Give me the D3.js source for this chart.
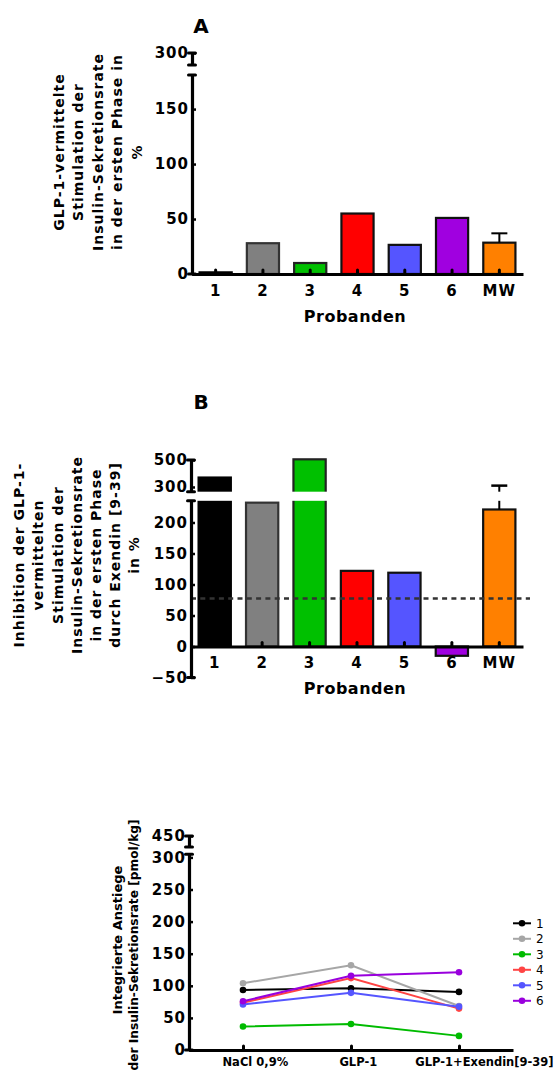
<!DOCTYPE html>
<html><head><meta charset="utf-8">
<script src="https://cdn.jsdelivr.net/npm/d3@7"></script>
<style>
body{margin:0;background:#fff}
svg{display:block}
text{font-family:"DejaVu Sans",sans-serif;font-weight:bold;fill:#000}
</style>
</head><body>
<svg id="chart" width="554" height="1080"></svg>
<script>
// ---------- data ----------
const probanden = ["1", "2", "3", "4", "5", "6", "MW"];
const barColors = ["#000000", "#808080", "#00c000", "#ff0000", "#5555ff", "#a000e0", "#ff8000"];
const barStrokes = ["#000000", "#333333", "#222222", "#111111", "#111111", "#111111", "#111111"];

// Panel A: GLP-1-vermittelte Stimulation (%)
const stimulationA = [1.5, 28, 10, 55, 26.5, 51, 28.5];
const stimulationA_MW_err = 8.5;
const ticksA_low = [0, 50, 100, 150];
const ticksA_high = [300];

// Panel B: Inhibition durch Exendin (%)
const inhibitionB = [370, 232, 505, 122, 119, -15, 221];
const inhibitionB_MW_err = 89;
const inhibitionB_reference = 77.5;
const ticksB_low = [-50, 0, 50, 100, 150, 200];
const ticksB_high = [300, 500];

// Panel C: integrierte Anstiege (pmol/kg)
const conditions = ["NaCl 0,9%", "GLP-1", "GLP-1+Exendin[9-39]"];
const subjects = ["1", "2", "3", "4", "5", "6"];
const subject1 = [93.5, 96, 90.5];
const subject2 = [104, 132, 68.5];
const subject3 = [36.5, 40.5, 22];
const subject4 = [73.5, 112, 64.5];
const subject5 = [71, 89, 67.5];
const subject6 = [76, 115.5, 121];
const lineColors = ["#000000", "#a6a6a6", "#00bb00", "#ff4444", "#5555ff", "#9900dd"];
const ticksC_low = [0, 50, 100, 150, 200, 250, 300];
const ticksC_high = [450];

// ---------- helpers ----------
const svg = d3.select("#chart");
const FONT = '"DejaVu Sans",sans-serif';

function broken(lo, hi) {
  return v => v <= lo.domain()[1] ? lo(v) : hi(v);
}

function styleTickText(sel, fs, ls) {
  sel.style("font-size", fs + "px").style("font-weight", "bold").style("font-family", FONT)
    .style("letter-spacing", ls + "px");
}

function drawBrokenYAxis(g, x, lo, hi, ticksLo, ticksHi, fs) {
  [[lo, ticksLo], [hi, ticksHi]].forEach(([sc, tv]) => {
    const ax = g.append("g").attr("transform", `translate(${x},0)`)
      .call(d3.axisLeft(sc).tickValues(tv).tickSizeInner(-4).tickSizeOuter(0).tickPadding(3).tickFormat(d3.format("d")));
    ax.select(".domain").attr("stroke", "#000").attr("stroke-width", 3.2);
    ax.selectAll(".tick line").attr("stroke", "#000").attr("stroke-width", 2.5);
    styleTickText(ax.selectAll(".tick text"), fs, 1);
    sc.range().forEach(yy => {
      g.append("line").attr("x1", x - 3.5).attr("x2", x + 3.5).attr("y1", yy).attr("y2", yy)
        .attr("stroke", "#000").attr("stroke-width", 3).attr("stroke-linecap", "round");
    });
  });
}

function drawXAxis(g, scale, y, fs, pad, ls) {
  const ax = g.append("g").attr("transform", `translate(0,${y})`)
    .call(d3.axisBottom(scale).tickSizeInner(-4).tickSizeOuter(0).tickPadding(pad));
  ax.select(".domain").attr("stroke", "#000").attr("stroke-width", 3.2);
  ax.selectAll(".tick line").attr("stroke", "#000").attr("stroke-width", 3).attr("stroke-linecap", "round");
  styleTickText(ax.selectAll(".tick text"), fs, ls);
  return ax;
}

function yTitle(lines, xs, cys, fs, ls) {
  lines.forEach((t, i) => {
    const cy = Array.isArray(cys) ? cys[i] : cys;
    svg.append("text").attr("transform", `translate(${xs[i]},${cy}) rotate(-90)`)
      .attr("text-anchor", "middle").attr("dy", "0.35em")
      .style("font-size", (Array.isArray(fs) ? fs[i] : fs) + "px").style("letter-spacing", ls + "px").text(t);
  });
}

// ---------- Panel A ----------
{
  const g = svg.append("g");
  const axX = 192, xEnd = 523;
  const x = d3.scaleBand().domain(probanden).range([axX, xEnd]).paddingInner(0.32).paddingOuter(0.16);
  const lo = d3.scaleLinear().domain([0, 181]).range([274, 75]);
  const hi = d3.scaleLinear().domain([290, 300]).range([65, 53]);
  const y = broken(lo, hi);

  g.selectAll("rect.bar").data(stimulationA).join("rect").attr("class", "bar")
    .attr("x", (d, i) => x(probanden[i])).attr("width", x.bandwidth())
    .attr("y", d => y(d)).attr("height", d => y(0) - y(d))
    .attr("fill", (d, i) => barColors[i]).attr("stroke", (d, i) => barStrokes[i]).attr("stroke-width", 2.2);

  const mi = probanden.length - 1;
  const cx = x("MW") + x.bandwidth() / 2;
  const top = stimulationA[mi] + stimulationA_MW_err;
  g.append("line").attr("x1", cx).attr("x2", cx).attr("y1", y(stimulationA[mi])).attr("y2", y(top))
    .attr("stroke", "#000").attr("stroke-width", 2);
  g.append("line").attr("x1", cx - 8).attr("x2", cx + 8).attr("y1", y(top)).attr("y2", y(top))
    .attr("stroke", "#000").attr("stroke-width", 2);

  drawXAxis(g, x, y(0), 15, 11, 1);
  drawBrokenYAxis(g, axX, lo, hi, ticksA_low, ticksA_high, 15);

  svg.append("text").attr("x", 201).attr("y", 33).attr("text-anchor", "middle").style("font-size", "20px").text("A");
  svg.append("text").attr("x", 355).attr("y", 321.7).attr("text-anchor", "middle").style("font-size", "16px")
    .style("letter-spacing", "0.5px").text("Probanden");
  yTitle(["GLP-1-vermittelte", "Stimulation der", "Insulin-Sekretionsrate", "in der ersten Phase in", "%"],
    [59, 78.5, 98, 117.5, 137], 152, 14, 1);
}

// ---------- Panel B ----------
{
  const g = svg.append("g");
  const axX = 191, xEnd = 523;
  const x = d3.scaleBand().domain(probanden).range([axX, xEnd]).paddingInner(0.32).paddingOuter(0.16);
  const lo = d3.scaleLinear().domain([-50, 235]).range([677.5, 500.8]);
  const hi = d3.scaleLinear().domain([265, 500]).range([491.7, 460]);
  const y = broken(lo, hi);

  g.selectAll("rect.bar").data(inhibitionB).join("rect").attr("class", "bar")
    .attr("x", (d, i) => x(probanden[i])).attr("width", x.bandwidth())
    .attr("y", d => Math.min(y(d), y(0))).attr("height", d => Math.abs(y(0) - y(d)))
    .attr("fill", (d, i) => barColors[i]).attr("stroke", (d, i) => barStrokes[i]).attr("stroke-width", 2.2);

  const mi = probanden.length - 1;
  const cx = x("MW") + x.bandwidth() / 2;
  const top = inhibitionB[mi] + inhibitionB_MW_err;
  g.append("line").attr("x1", cx).attr("x2", cx).attr("y1", y(inhibitionB[mi])).attr("y2", y(top))
    .attr("stroke", "#000").attr("stroke-width", 2);
  g.append("line").attr("x1", cx - 8).attr("x2", cx + 8).attr("y1", y(top)).attr("y2", y(top))
    .attr("stroke", "#000").attr("stroke-width", 2.5);

  // gap of the broken axis
  g.append("rect").attr("x", axX - 8).attr("width", xEnd - axX + 20)
    .attr("y", hi.range()[0]).attr("height", lo.range()[1] - hi.range()[0]).attr("fill", "#fff");

  g.append("line").attr("x1", axX).attr("x2", 530).attr("y1", y(inhibitionB_reference)).attr("y2", y(inhibitionB_reference))
    .attr("stroke", "#333").attr("stroke-width", 2.5).attr("stroke-dasharray", "5,4.3");

  drawXAxis(g, x, y(0), 15, 11, 1);
  drawBrokenYAxis(g, axX, lo, hi, ticksB_low, ticksB_high, 15);

  svg.append("text").attr("x", 201).attr("y", 409).attr("text-anchor", "middle").style("font-size", "20px").text("B");
  svg.append("text").attr("x", 355).attr("y", 693.5).attr("text-anchor", "middle").style("font-size", "16px")
    .style("letter-spacing", "0.5px").text("Probanden");
  yTitle(["Inhibition der GLP-1-", "vermittelten", "Stimulation der", "Insulin-Sekretionsrate", "in der ersten Phase", "durch Exendin [9-39]", "in %"],
    [19, 38.5, 58, 77, 96, 115, 134], 555, 14, 1);
}

// ---------- Panel C ----------
{
  const g = svg.append("g");
  const axX = 189, xEnd = 513;
  const x = d3.scalePoint().domain(conditions).range([axX, xEnd]).padding(0.5);
  const lo = d3.scaleLinear().domain([0, 305]).range([1050, 854.2]);
  const hi = d3.scaleLinear().domain([433, 450]).range([847, 836]);
  const y = broken(lo, hi);

  const series = [subject1, subject2, subject3, subject4, subject5, subject6];
  const line = d3.line().x((d, i) => x(conditions[i])).y(d => y(d));

  const xa = drawXAxis(g, x, y(0), 11.5, 8, 0);
  // labels in the original sit slightly right of their ticks
  xa.selectAll(".tick text").attr("dx", function () { return 0.18 * this.getComputedTextLength(); });
  drawBrokenYAxis(g, axX, lo, hi, ticksC_low, ticksC_high, 15);

  series.forEach((s, k) => {
    g.append("path").datum(s).attr("d", line).attr("fill", "none")
      .attr("stroke", lineColors[k]).attr("stroke-width", 2);
    g.selectAll(null).data(s).join("circle")
      .attr("cx", (d, i) => x(conditions[i])).attr("cy", d => y(d)).attr("r", 3.3)
      .attr("fill", lineColors[k]);
  });

  // legend
  const leg = g.append("g");
  subjects.forEach((s, k) => {
    const yy = 923.3 + k * 15.5;
    leg.append("line").attr("x1", 513).attr("x2", 531).attr("y1", yy).attr("y2", yy)
      .attr("stroke", lineColors[k]).attr("stroke-width", 2);
    leg.append("circle").attr("cx", 522).attr("cy", yy).attr("r", 3.3).attr("fill", lineColors[k]);
    leg.append("text").attr("x", 536).attr("y", yy).attr("dy", "0.35em")
      .style("font-size", "12px").style("font-weight", "normal").text(s);
  });

  yTitle(["Integrierte Anstiege", "der Insulin-Sekretionsrate [pmol/kg]"], [117, 134], [940, 945], [13, 12.2], 0);
}
</script>
</body></html>
